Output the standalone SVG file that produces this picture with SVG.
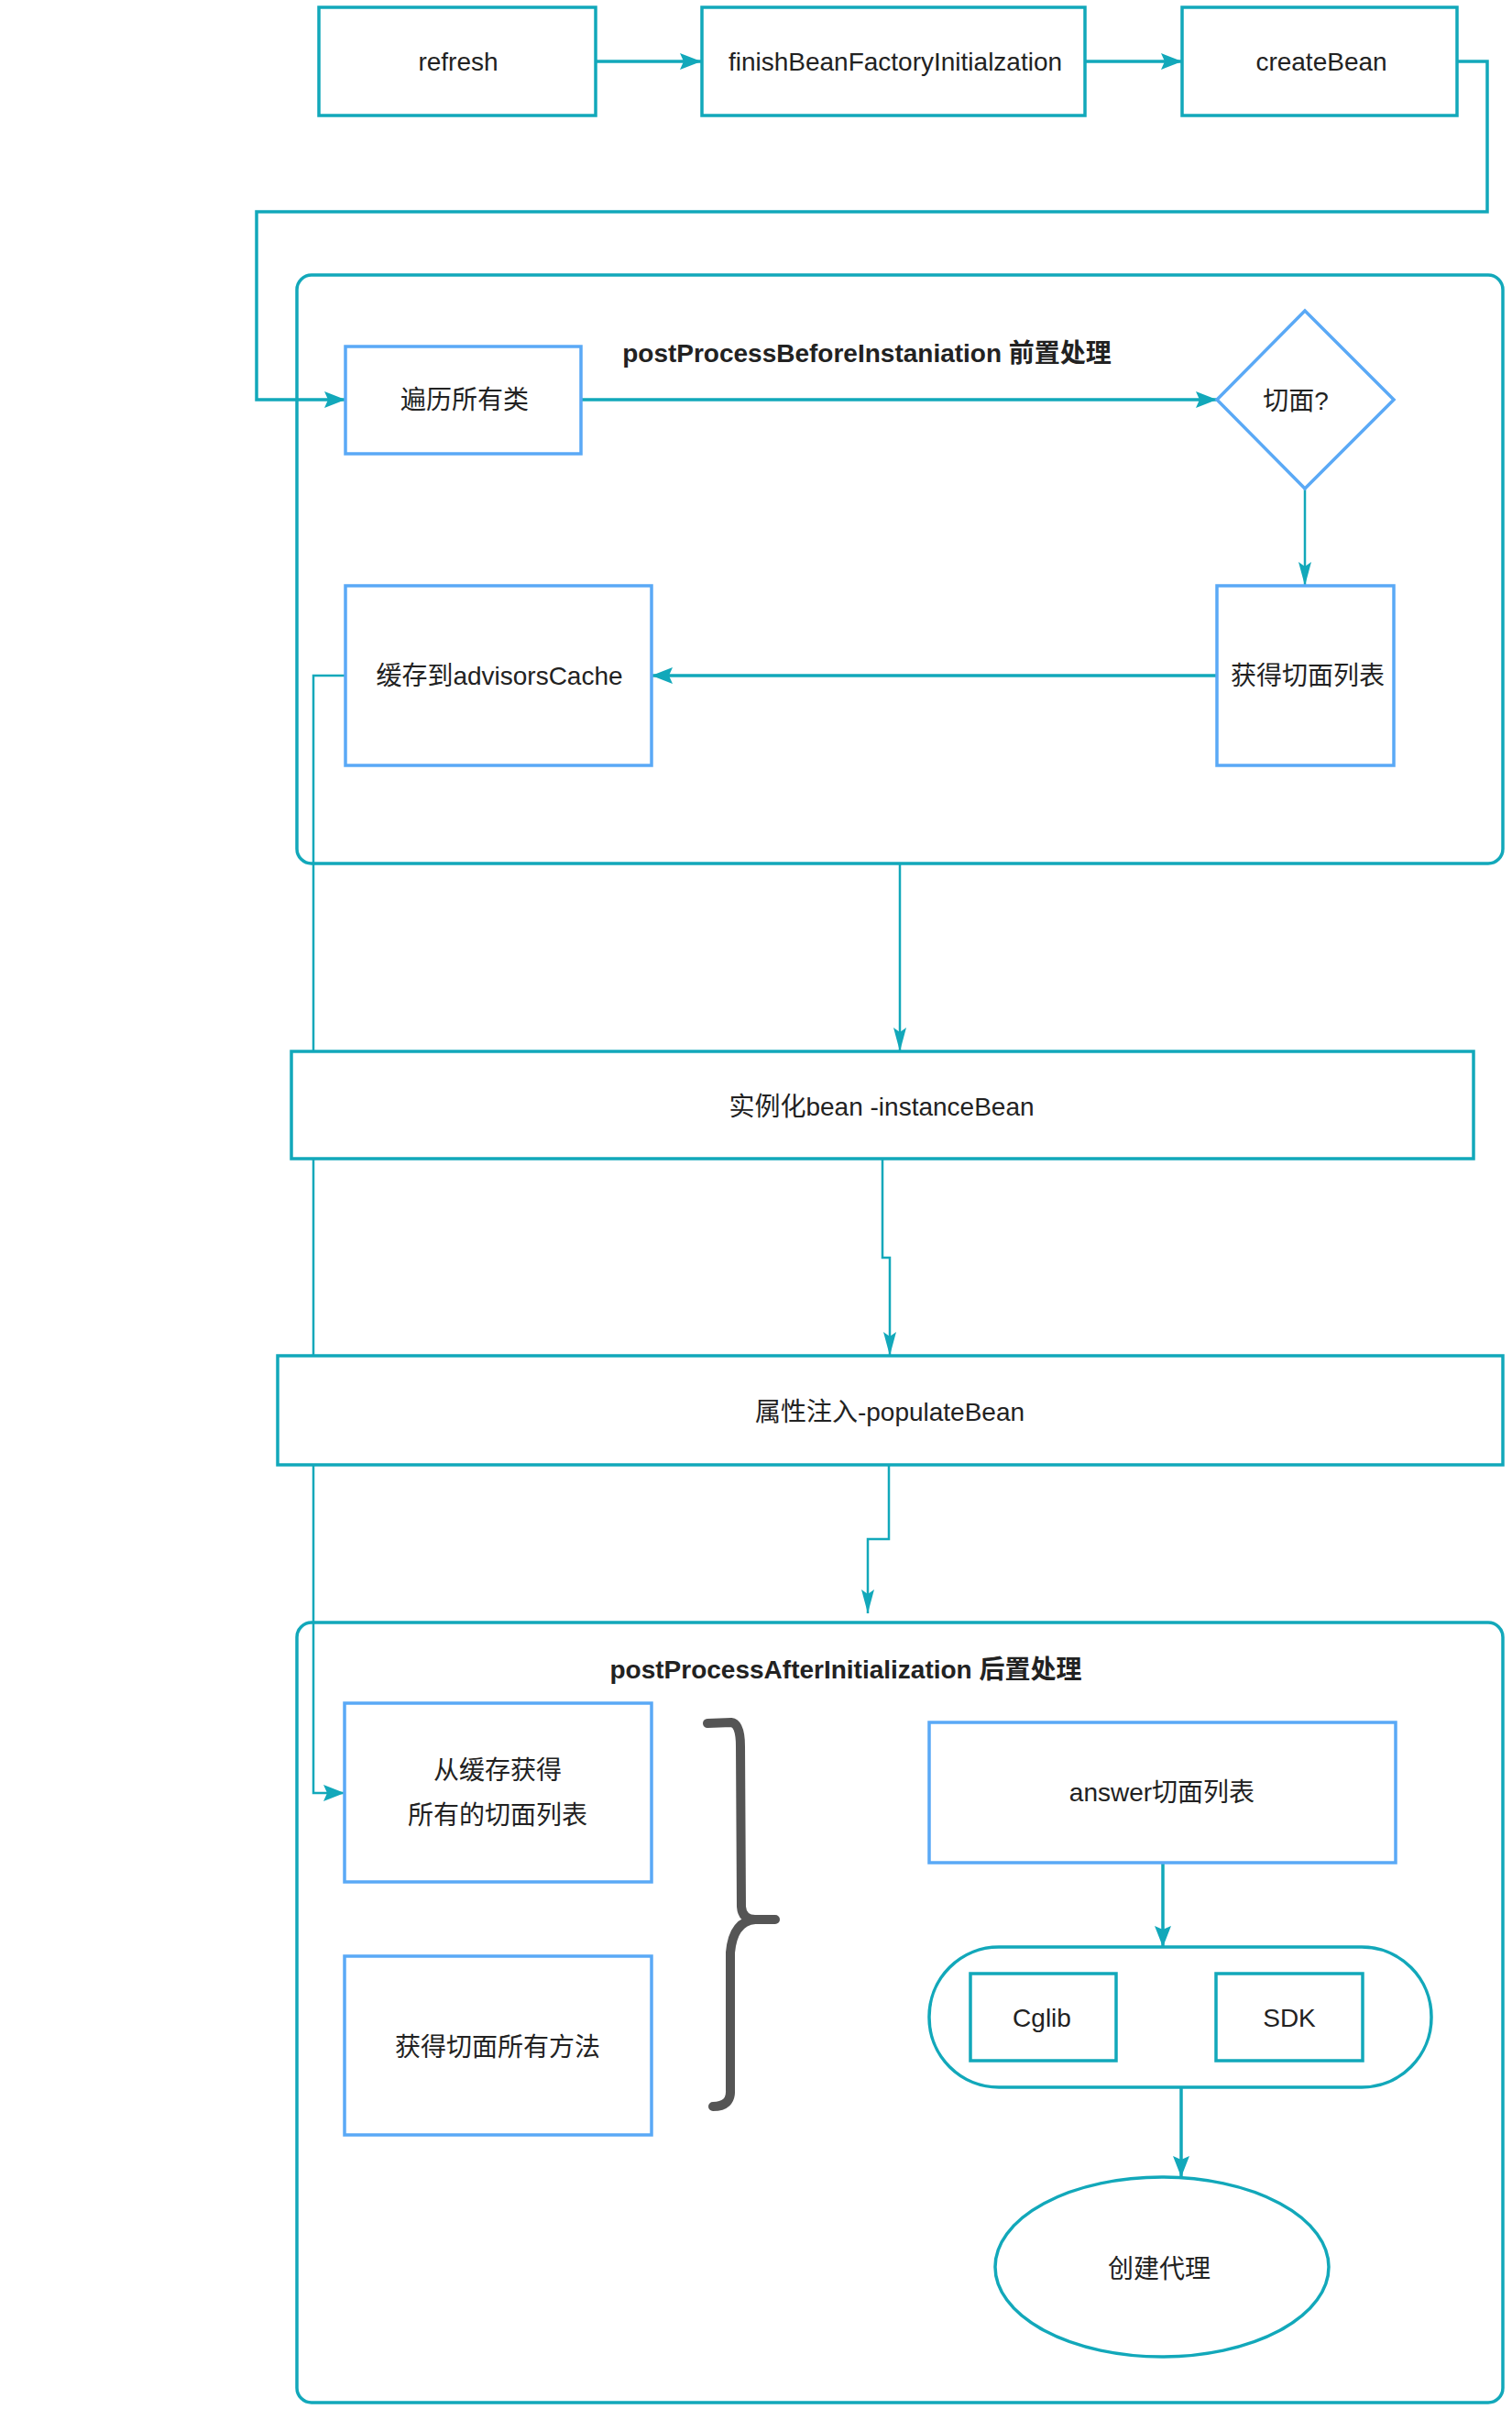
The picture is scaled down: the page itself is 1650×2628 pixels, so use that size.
<svg xmlns="http://www.w3.org/2000/svg" width="1650" height="2628" viewBox="0 0 1650 2628">
<style>
  text { font-family: "Liberation Sans", "Noto Sans CJK SC", sans-serif; font-size: 28px; fill: #222; text-anchor: middle; }
  .title { font-weight: 700; }
  .teal { fill: #fff; stroke: #12a8ba; stroke-width: 3.5; }
  .blue { fill: #fff; stroke: #5aa9f6; stroke-width: 3.5; }
  .container { fill: #fff; stroke: #12a8ba; stroke-width: 3.5; }
  .c { fill: none; stroke: #12a8ba; stroke-width: 3.5; }
  .ct { fill: none; stroke: #12a8ba; stroke-width: 2.5; }
  .big { marker-end: url(#ahBig); }
  .thin { marker-end: url(#ahThin); }
</style>
<defs>
  <marker id="ahBig" markerUnits="userSpaceOnUse" markerWidth="26" markerHeight="20" refX="23" refY="9" orient="auto">
    <path d="M0,0 L23,9 L0,18 L4,9 z" fill="#12a8ba"/>
  </marker>
  <marker id="ahThin" markerUnits="userSpaceOnUse" markerWidth="28" markerHeight="16" refX="26" refY="7" orient="auto">
    <path d="M0,0 L26,7 L0,14 L5,7 z" fill="#12a8ba"/>
  </marker>
</defs>
<rect width="1650" height="2628" fill="#fff"/>

<g id="container-before">
  <rect class="container" x="324" y="300" width="1316" height="642" rx="16"/>
  <text class="title" x="946" y="395">postProcessBeforeInstaniation 前置处理</text>
</g>
<g id="container-after">
  <rect class="container" x="324" y="1770" width="1316" height="851" rx="16"/>
  <text class="title" x="923" y="1831">postProcessAfterInitialization 后置处理</text>
</g>

<g id="connectors">
  <path class="c big" d="M650,67 L765,67"/>
  <path class="c big" d="M1184,67 L1290,67"/>
  <path class="c big" d="M1590,67 L1623,67 L1623,231 L280,231 L280,436 L377,436"/>
  <path class="c big" d="M634,436 L1328,436"/>
  <path class="ct thin" d="M1424,533 L1424,639"/>
  <path class="c big" d="M1328,737 L711,737"/>
  <path class="ct big" d="M377,737 L342,737 L342,1956 L376,1956"/>
  <path class="ct thin" d="M982,942 L982,1147"/>
  <path class="ct thin" d="M963,1264 L963,1372 L971,1372 L971,1479"/>
  <path class="ct thin" d="M970,1598 L970,1679 L947,1679 L947,1760"/>
  <path class="c big" d="M1269,2032 L1269,2124"/>
  <path class="c big" d="M1289,2277 L1289,2375"/>
</g>

<g id="refresh">
  <rect class="teal" x="348" y="8" width="302" height="118"/>
  <text x="500" y="77">refresh</text>
</g>
<g id="finishBeanFactoryInitialzation">
  <rect class="teal" x="766" y="8" width="418" height="118"/>
  <text x="977" y="77">finishBeanFactoryInitialzation</text>
</g>
<g id="createBean">
  <rect class="teal" x="1290" y="8" width="300" height="118"/>
  <text x="1442" y="77">createBean</text>
</g>

<g id="traverse">
  <rect class="blue" x="377" y="378" width="257" height="117"/>
  <text x="507" y="446">遍历所有类</text>
</g>
<g id="is-aspect">
  <polygon class="blue" points="1424,339 1521,436 1424,533 1328,436"/>
  <text x="1414" y="447">切面?</text>
</g>
<g id="get-aspects">
  <rect class="blue" x="1328" y="639" width="193" height="196"/>
  <text x="1427" y="747">获得切面列表</text>
</g>
<g id="cache">
  <rect class="blue" x="377" y="639" width="334" height="196"/>
  <text x="545" y="747">缓存到advisorsCache</text>
</g>

<g id="instanceBean">
  <rect class="teal" x="318" y="1147" width="1290" height="117"/>
  <text x="962" y="1217">实例化bean -instanceBean</text>
</g>
<g id="populateBean">
  <rect class="teal" x="303" y="1479" width="1337" height="119"/>
  <text x="971" y="1550">属性注入-populateBean</text>
</g>

<g id="from-cache">
  <rect class="blue" x="376" y="1858" width="335" height="195"/>
  <text x="543" y="1941">从缓存获得</text>
  <text x="543" y="1990">所有的切面列表</text>
</g>
<g id="get-methods">
  <rect class="blue" x="376" y="2134" width="335" height="195"/>
  <text x="543" y="2243">获得切面所有方法</text>
</g>
<g id="brace">
  <path d="M772,1880 L798,1879 Q808,1880 808,1905 L809,2080 Q810,2094 824,2094 L846,2094 M824,2094 Q800,2096 797,2130 L797,2280 Q798,2298 778,2298" fill="none" stroke="#555" stroke-width="10" stroke-linecap="round" stroke-linejoin="round"/>
</g>

<g id="answer">
  <rect class="blue" x="1014" y="1879" width="509" height="153"/>
  <text x="1268" y="1965">answer切面列表</text>
</g>
<g id="proxy-type">
  <rect class="teal" x="1014" y="2124" width="548" height="153" rx="76" ry="76"/>
</g>
<g id="cglib">
  <rect class="teal" x="1059" y="2153" width="159" height="95"/>
  <text x="1137" y="2211">Cglib</text>
</g>
<g id="sdk">
  <rect class="teal" x="1327" y="2153" width="160" height="95"/>
  <text x="1407" y="2211">SDK</text>
</g>
<g id="create-proxy">
  <ellipse class="teal" cx="1268" cy="2473" rx="182" ry="98"/>
  <text x="1265" y="2485">创建代理</text>
</g>
</svg>
